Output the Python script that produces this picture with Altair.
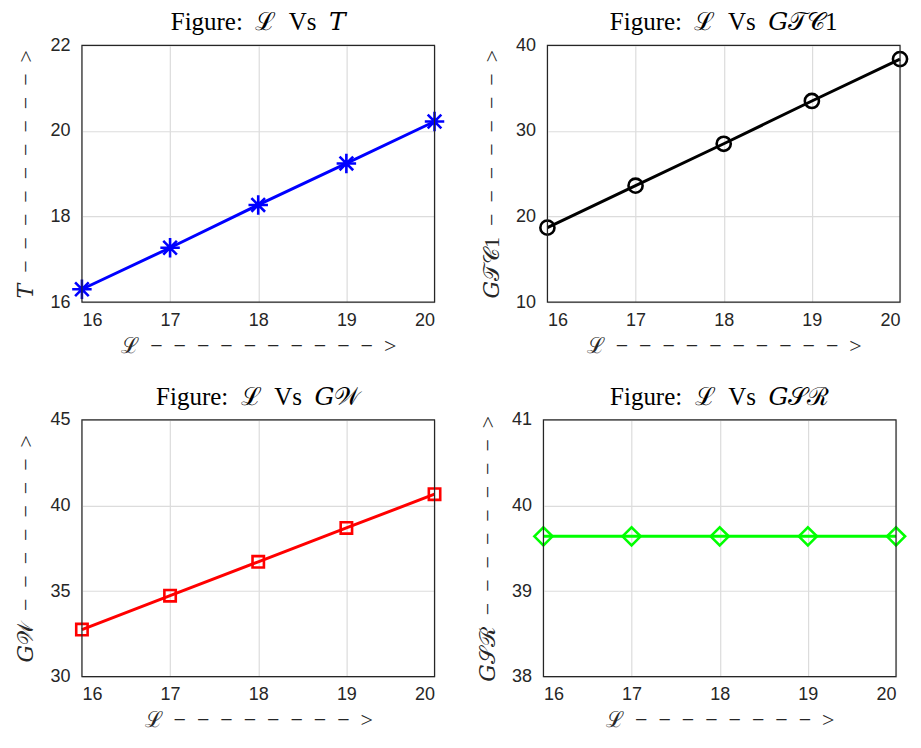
import altair as alt
import pandas as pd

L_vals = [16, 17, 18, 19, 20]
T_vals = [16.30, 17.27, 18.27, 19.24, 20.22]
GTC1_vals = [18.7, 23.6, 28.5, 33.5, 38.4]
GW_vals = [32.75, 34.73, 36.71, 38.69, 40.66]
GSR_vals = [39.64, 39.64, 39.64, 39.64, 39.64]

x_ticks = [16, 17, 18, 19, 20]
T_ticks = [16, 18, 20, 22]
GTC1_ticks = [10, 20, 30, 40]
GW_ticks = [30, 35, 40, 45]
GSR_ticks = [38, 39, 40, 41]

SERIF = "Liberation Serif, DejaVu Serif, serif"
SANS = "Liberation Sans, Arial, sans-serif"
ASTERISK = "M-1,0L1,0M0,-1L0,1M-0.7,-0.7L0.7,0.7M-0.7,0.7L0.7,-0.7"
W, H = 353, 257
SP = "\u2002"


def dash(n):
    return SP.join(["\u2212"] * n)


def panel(vals, color, shape, size, ticks, title, ytitle, xtitle):
    df = pd.DataFrame({"L": L_vals, "v": vals})
    base = alt.Chart(df).encode(
        x=alt.X(
            "L:Q",
            scale=alt.Scale(domain=[16, 20], nice=False, zero=False),
            axis=alt.Axis(
                values=x_ticks, title=xtitle, format="d",
                labelPadding=9, titlePadding=6,
            ),
        ),
        y=alt.Y(
            "v:Q",
            scale=alt.Scale(domain=[ticks[0], ticks[-1]], nice=False, zero=False),
            axis=alt.Axis(
                values=ticks, title=ytitle, format="d",
                labelPadding=12, titlePadding=12,
            ),
        ),
    )
    line = base.mark_line(color=color, strokeWidth=3)
    pts = base.mark_point(
        shape=shape, size=size, filled=False, color=color, strokeWidth=2.6, opacity=1
    )
    frame = alt.Chart(pd.DataFrame({"f": [0]})).mark_rect(
        fill="transparent", stroke="#262626", strokeWidth=1.2
    ).encode(x=alt.value(0), x2=alt.value(W), y=alt.value(0), y2=alt.value(H))
    return alt.layer(line, pts, frame).properties(
        width=W,
        height=H,
        title=alt.TitleParams(title, font=SERIF, fontSize=25, fontWeight="normal",
                              color="#000000", offset=1, frame="group"),
    )


p1 = panel(T_vals, "#0000ff", ASTERISK, 380, T_ticks,
           "Figure:" + SP + "\u2112" + SP + "Vs" + SP + "\U0001D447",
           "\U0001D447" + SP + dash(9) + SP + ">",
           "\u2112" + SP + dash(10) + SP + ">")
p2 = panel(GTC1_vals, "#000000", "circle", 200, GTC1_ticks,
           "Figure:" + SP + "\u2112" + SP + "Vs" + SP + "\U0001D43A\U0001D4AF\U0001D49E1",
           "\U0001D43A\U0001D4AF\U0001D49E1" + SP + dash(7) + SP + ">",
           "\u2112" + SP + dash(10) + SP + ">")
p3 = panel(GW_vals, "#ff0000", "square", 130, GW_ticks,
           "Figure:" + SP + "\u2112" + SP + "Vs" + SP + "\U0001D43A\U0001D4B2",
           "\U0001D43A\U0001D4B2" + SP + dash(7) + SP + ">",
           "\u2112" + SP + dash(8) + SP + ">")
p4 = panel(GSR_vals, "#00ff00", "diamond", 330, GSR_ticks,
           "Figure:" + SP + "\u2112" + SP + "Vs" + SP + "\U0001D43A\U0001D4AE\u211B",
           "\U0001D43A\U0001D4AE\u211B" + SP + dash(8) + SP + ">",
           "\u2112" + SP + dash(8) + SP + ">")

chart = alt.vconcat(
    alt.hconcat(p1, p2, spacing=30),
    alt.hconcat(p3, p4, spacing=30),
    spacing=29,
).properties(padding={"left": 6, "top": 2, "right": 0, "bottom": 0},
             background="white").configure_view(
    stroke=None
).configure_axis(
    labelFont=SANS, labelFontSize=18, labelColor="#262626",
    titleFont=SERIF, titleFontSize=22, titleFontWeight="normal", titleColor="#262626",
    grid=True, gridColor="#dcdcdc", gridWidth=1.2,
    domain=False, ticks=False,
)

chart.save("out.html", embed_options={"renderer": "svg", "actions": False})
